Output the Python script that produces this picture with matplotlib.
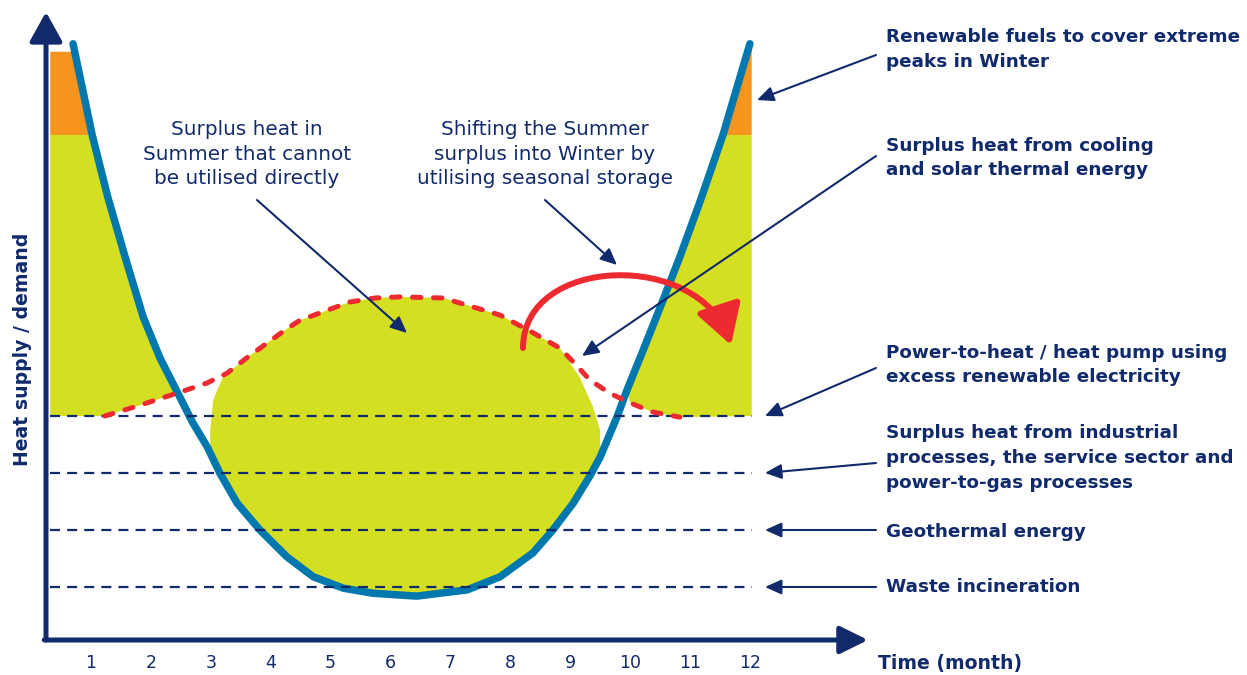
import numpy as np
import matplotlib.pyplot as plt
from matplotlib.path import Path
from matplotlib.patches import FancyArrowPatch

NAVY = '#112a6b'
GREEN = '#d5df22'
ORANGE = '#f7941e'
BLUE = '#0078ad'
RED = '#ed2a30'

months = list(range(1, 13))

# heat demand over the year (blue curve), month vs heat level
demand_x = [0.70, 1.02, 1.28, 1.60, 1.87, 2.15, 2.45, 2.70, 2.94, 3.15, 3.44, 3.82, 4.27, 4.71, 5.21, 5.71,
            6.44, 7.28, 7.83, 8.38, 8.71, 9.05, 9.33, 9.50, 9.78, 9.95, 10.22, 10.53, 10.83, 11.16, 11.55, 12.00]
demand_y = [10.53, 8.93, 7.84, 6.68, 5.74, 5.02, 4.40, 3.88, 3.46, 3.00, 2.47, 2.00, 1.53, 1.18, 0.98, 0.89,
            0.84, 0.95, 1.18, 1.60, 2.00, 2.47, 2.95, 3.28, 3.98, 4.46, 5.16, 5.98, 6.79, 7.74, 8.93, 10.53]

# surplus heat supply (red dashed)
supply_x = [1.23, 1.82, 2.49, 2.94, 3.27, 3.60, 3.94, 4.27, 4.49, 5.32, 5.74, 6.16, 6.88, 7.83, 8.38, 8.83,
            9.05, 9.33, 9.66, 10.00, 10.38, 10.83]
supply_y = [4.00, 4.19, 4.42, 4.58, 4.75, 5.02, 5.28, 5.53, 5.68, 6.00, 6.07, 6.09, 6.07, 5.77, 5.46, 5.19,
            4.95, 4.63, 4.40, 4.23, 4.07, 3.98]

# edges of the summer surplus area
blob_left_x = [2.99, 2.99, 3.04, 3.20]
blob_left_y = [3.35, 3.75, 4.28, 4.68]
blob_right_x = [9.16, 9.38, 9.50]
blob_right_y = [4.68, 4.16, 3.75]

# base supply levels (dashed)
levels = [4, 3, 2, 1]
green_top = 8.93
orange_top = 10.39
x_start, x_end = 0.32, 12.03

level_labels = ['Power-to-heat / heat pump using\nexcess renewable electricity',
                'Surplus heat from industrial\nprocesses, the service sector and\npower-to-gas processes',
                'Geothermal energy',
                'Waste incineration']


def P(px, py):
    # picture pixel -> chart units (layout helper)
    return (1 + (px - 91) / 59.9, (644 - py) / 57)


fig = plt.figure(figsize=(12.47, 6.75), dpi=100)
ax = fig.add_axes([0, 0, 1, 1])
ax.set_xlim(P(0, 0)[0], P(1247, 0)[0])
ax.set_ylim(P(0, 675)[1], P(0, 0)[1])
ax.axis('off')

dx, dy = np.array(demand_x), np.array(demand_y)
sx, sy = np.array(supply_x), np.array(supply_y)

# left winter area
m_s = sx <= 2.5
m_d = (dx <= 2.5) & (dy <= green_top)
poly_x = [x_start] + list(sx[m_s]) + list(dx[m_d][::-1]) + [x_start]
poly_y = [levels[0]] + list(sy[m_s]) + list(dy[m_d][::-1]) + [green_top]
ax.fill(poly_x, poly_y, color=GREEN, lw=0, zorder=1)
xo = np.interp(orange_top, [dy[1], dy[0]], [dx[1], dx[0]])
ax.fill([x_start, dx[1], xo, x_start], [green_top, green_top, orange_top, orange_top],
        color=ORANGE, lw=0, zorder=1)

# summer surplus area
m_s = (sx > 3.2) & (sx < 8.9)
m_d = (dx > 3.1) & (dx <= 9.5)
poly_x = list(sx[m_s]) + blob_right_x + list(dx[m_d][::-1]) + blob_left_x
poly_y = list(sy[m_s]) + blob_right_y + list(dy[m_d][::-1]) + blob_left_y
ax.fill(poly_x, poly_y, color=GREEN, lw=0, zorder=1)

# right winter area
m_s = sx >= 9.9
m_d = (dx >= 9.9) & (dy <= green_top)
poly_x = [x_end] + list(sx[m_s][::-1]) + list(dx[m_d]) + [x_end]
poly_y = [levels[0]] + list(sy[m_s][::-1]) + list(dy[m_d]) + [green_top]
ax.fill(poly_x, poly_y, color=GREEN, lw=0, zorder=1)
ax.fill([dx[-2], dx[-1], x_end, x_end], [green_top, dy[-1], dy[-1], green_top],
        color=ORANGE, lw=0, zorder=1)

# curves
ax.plot(dx, dy, color=BLUE, lw=5.4, solid_capstyle='round', solid_joinstyle='round', zorder=3)
for lv in levels:
    ax.plot([x_start, x_end], [lv, lv], color=NAVY, lw=1.6, ls=(0, (4.5, 3.2)), zorder=4)
ax.plot(sx, sy, color=RED, lw=3.6, ls=(0, (1.7, 2.5)), dash_capstyle='round', zorder=5)

# axes with arrow heads
org = P(46, 640)
ax.annotate('', xy=P(46, 12), xytext=org,
            arrowprops=dict(arrowstyle='-|>,head_length=0.9,head_width=0.5', mutation_scale=20,
                            lw=3.6, color=NAVY, shrinkA=0, shrinkB=0), zorder=6)
ax.annotate('', xy=P(868, 640), xytext=(org[0] - 0.03, org[1]),
            arrowprops=dict(arrowstyle='-|>,head_length=0.85,head_width=0.42', mutation_scale=20,
                            lw=3.6, color=NAVY, shrinkA=0, shrinkB=0), zorder=6)

for m in months:
    ax.text(m, P(0, 663)[1], str(m), ha='center', va='center', color=NAVY, fontsize=12.5)
ax.text(*P(878, 663), 'Time (month)', ha='left', va='center', color=NAVY,
        fontsize=13.6, fontweight='bold')
ax.text(*P(22, 349), 'Heat supply / demand', ha='center', va='center', rotation=90,
        color=NAVY, fontsize=13.6, fontweight='bold')

# red storage shift arrow
shift = Path([P(523, 348), P(523, 255), P(700, 250), P(731, 345)],
             [Path.MOVETO, Path.CURVE4, Path.CURVE4, Path.CURVE4])
ax.add_patch(FancyArrowPatch(path=shift, arrowstyle='-|>,head_length=1.2,head_width=0.7',
                             mutation_scale=20, lw=4.3, color=RED, capstyle='round', zorder=7))

nav_arrow = dict(arrowstyle='-|>,head_length=1.0,head_width=0.45', mutation_scale=10,
                 lw=1.5, color=NAVY, shrinkA=0, shrinkB=0)

# centre notes
ax.text(*P(247, 154), 'Surplus heat in\nSummer that cannot\nbe utilised directly', ha='center',
        va='center', color=NAVY, fontsize=14.4, linespacing=1.34)
ax.annotate('', xy=P(407, 333), xytext=P(257, 200), arrowprops=nav_arrow, zorder=8)
ax.text(*P(545, 154), 'Shifting the Summer\nsurplus into Winter by\nutilising seasonal storage',
        ha='center', va='center', color=NAVY, fontsize=14.4, linespacing=1.34)
ax.annotate('', xy=P(617, 265), xytext=P(545, 200), arrowprops=nav_arrow, zorder=8)

# right-hand notes
ax.text(*P(886, 49.5), 'Renewable fuels to cover extreme\npeaks in Winter', ha='left', va='center',
        color=NAVY, fontsize=13.2, fontweight='bold', linespacing=1.47)
ax.annotate('', xy=P(757, 100), xytext=P(876, 55), arrowprops=nav_arrow, zorder=8)
ax.text(*P(886, 158), 'Surplus heat from cooling\nand solar thermal energy', ha='left', va='center',
        color=NAVY, fontsize=13.2, fontweight='bold', linespacing=1.47)
ax.annotate('', xy=P(582, 356), xytext=P(876, 156), arrowprops=nav_arrow, zorder=8)

label_py = [365, 458, 532, 587]
start_py = [368, 463, 530, 587]
for lv, lab, ly, sy0 in zip(levels, level_labels, label_py, start_py):
    ax.text(*P(886, ly), lab, ha='left', va='center', color=NAVY, fontsize=13.2,
            fontweight='bold', linespacing=1.47)
    ax.annotate('', xy=(P(765, 0)[0], lv), xytext=P(876, sy0), arrowprops=nav_arrow, zorder=8)

fig.savefig('out.png', dpi=100)
